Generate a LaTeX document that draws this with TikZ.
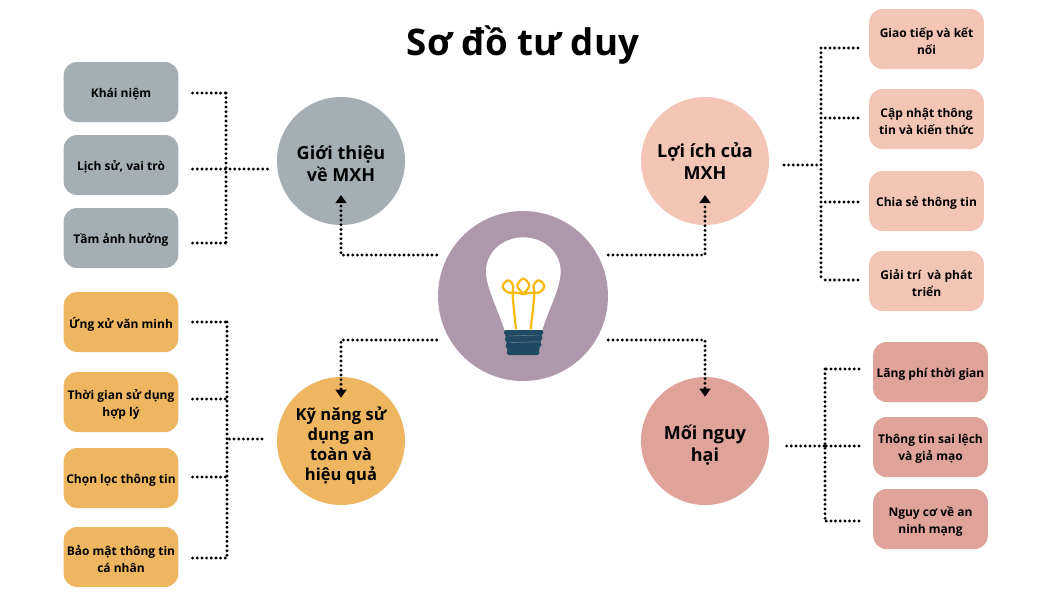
\documentclass[tikz,border=0pt]{standalone}
\usepackage{fontspec}
\setmainfont{Open Sans}
\usetikzlibrary{arrows.meta}

\definecolor{grisMXH}{HTML}{A5AFB3}
\definecolor{salmonMXH}{HTML}{F2C5B4}
\definecolor{naranjaMXH}{HTML}{EFB661}
\definecolor{rosaMXH}{HTML}{E0A39A}
\definecolor{malvaMXH}{HTML}{AE98AC}
\definecolor{azulMXH}{HTML}{1F4A63}
\definecolor{amarilloMXH}{HTML}{F9B90F}

\tikzset{
	tema/.style = {
		circle, minimum size = 96pt, inner sep = 0pt
	},
	rotulotema/.style = {
		align = center, inner sep = 0pt, yshift = -2.2pt,
		font = \bfseries\fontsize{13.5}{16.5}\selectfont
	},
	caja/.style = {
		rectangle, rounded corners = 10pt, inner sep = 0pt,
		minimum width = 86pt, minimum height = 45pt
	},
	rotulocaja/.style = {
		align = center, inner sep = 0pt, yshift = -1.6pt,
		font = \bfseries\fontsize{9}{12.75}\selectfont
	},
	punteado/.style = {
		line width = 2.4pt, line cap = round,
		dash pattern = on 0pt off 3.5pt
	},
	flecha/.style = {
		punteado, -{Triangle[width = 8pt, length = 6pt]}
	}
}

\begin{document}
\begin{tikzpicture}[x = 0.75pt, y = -0.75pt]

	% márgenes del dibujo
	\useasboundingbox (0,0) rectangle (1052,593);

	% título
	\node[font = \bfseries\fontsize{27.5}{32}\selectfont] (titulo) at (523,45) {Sơ đồ tư duy};

	% círculos
	\node[circle, fill = malvaMXH, minimum size = 127.5pt, inner sep = 0pt] (central) at (523,296) {};
	\node[tema, fill = grisMXH, label = {[rotulotema]center:Giới thiệu\\về MXH}] (gioithieu) at (341,161) {};
	\node[tema, fill = salmonMXH, label = {[rotulotema, yshift = 2.2pt]center:Lợi ích của\\MXH}] (loiich) at (705,161) {};
	\node[tema, fill = naranjaMXH, label = {[rotulotema, yshift = -1.2pt, font = \bfseries\fontsize{12.4}{15}\selectfont]center:Kỹ năng sử\\dụng an\\toàn và\\hiệu quả}] (kynang) at (341,441) {};
	\node[tema, fill = rosaMXH, label = {[rotulotema, yshift = -1pt]center:Mối nguy\\hại}] (moinguy) at (705,441) {};

	% cajas de cada tema
	\foreach \n/\y/\t in {
		khainiem/92/Khái niệm,
		lichsu/165/{Lịch sử, vai trò},
		anhhuong/238/Tầm ảnh hưởng}
		\node[caja, fill = grisMXH, label = {[rotulocaja]center:\t}] (\n) at (121,\y) {};

	\foreach \n/\y/\t in {
		giaotiep/39/{Giao tiếp và kết\\nối},
		capnhat/119/{Cập nhật thông\\tin và kiến thức},
		chiase/201/Chia sẻ thông tin,
		giaitri/281/{Giải trí~ và phát\\triển}}
		\node[caja, fill = salmonMXH, label = {[rotulocaja]center:\t}] (\n) at (926.5,\y) {};

	\foreach \n/\y/\t in {
		ungxu/322/Ứng xử văn minh,
		thoigian/402/{Thời gian sử dụng\\hợp lý},
		chonloc/478/Chọn lọc thông tin,
		baomat/557/{Bảo mật thông tin\\cá nhân}}
		\node[caja, fill = naranjaMXH, label = {[rotulocaja]center:\t}] (\n) at (121,\y) {};

	\foreach \n/\y/\t in {
		langphi/372/Lãng phí thời gian,
		sailech/447/{Thông tin sai lệch\\và giả mạo},
		anninh/519/{Nguy cơ về an\\ninh mạng}}
		\node[caja, fill = rosaMXH, label = {[rotulocaja]center:\t}] (\n) at (930.5,\y) {};

	% barras verticales
	\coordinate (barraA) at (226,169);
	\coordinate (barraB) at (821,165);
	\coordinate (barraC) at (227,439);
	\coordinate (barraD) at (825,446);

	% ramas punteadas
	\foreach \n/\d in {khainiem/1, lichsu/4, anhhuong/5}
		\draw[punteado] ([shift = {(14,\d)}]\n.east) coordinate (p\n) -- (barraA |- p\n);
	\draw[punteado] (barraA |- pkhainiem) -- (barraA |- panhhuong);
	\draw[punteado, shorten <= 7pt] (gioithieu.west |- barraA) -- (barraA);

	\foreach \n/\d in {giaotiep/9, capnhat/-1, chiase/1, giaitri/-1}
		\draw[punteado] ([shift = {(-11,\d)}]\n.west) coordinate (p\n) -- (barraB |- p\n);
	\draw[punteado] (barraB |- pgiaotiep) -- (barraB |- pgiaitri);
	\draw[punteado, shorten <= 11pt] (loiich.east |- barraB) -- (barraB);

	\foreach \n/\d in {ungxu/0, thoigian/-3, chonloc/-1, baomat/1}
		\draw[punteado] ([shift = {(14,\d)}]\n.east) coordinate (p\n) -- (barraC |- p\n);
	\draw[punteado] (barraC |- pungxu) -- (barraC |- pbaomat);
	\draw[punteado, shorten <= 11pt] (kynang.west |- barraC) -- (barraC);

	\foreach \n/\d in {langphi/-3, sailech/-1, anninh/2}
		\draw[punteado] ([shift = {(-14,\d)}]\n.west) coordinate (p\n) -- (barraD |- p\n);
	\draw[punteado] (barraD |- plangphi) -- (barraD |- panninh);
	\draw[punteado, shorten <= 13pt] (moinguy.east |- barraD) -- (barraD);

	% flechas desde el centro
	\draw[flecha] ([shift = {(-1,-41)}]central.west) -| ([shift = {(0,34)}]gioithieu.center);
	\draw[flecha] ([shift = {(0,-41)}]central.east) -| ([shift = {(0,34)}]loiich.center);
	\draw[flecha] ([shift = {(-1,44)}]central.west) -| ([shift = {(0,21)}]kynang.north);
	\draw[flecha] ([shift = {(0,44)}]central.east) -| ([shift = {(0,20)}]moinguy.north);

	% bombilla
	\begin{scope}[shift = {(430,200)}, x = 0.25pt, y = -0.25pt]
		\fill[white]
			(224,392) .. controls (205,330) and (168,262) .. (168,215)
			.. controls (168,155) and (220,112) .. (280,112)
			.. controls (340,112) and (392,155) .. (392,215)
			.. controls (392,262) and (355,330) .. (336,392) -- cycle;
		\draw[amarilloMXH, line width = 1.7pt, line join = round]
			plot[smooth, tension = 0.6] coordinates {
				(258,388) (248,285) (250,258) (235,241) (218,258) (232,277) (262,278)
				(280,282) (266,266) (263,252) (280,236) (297,252) (294,266)
				(280,282) (300,278) (328,277) (343,258) (326,241) (310,258) (313,285) (302,388)
			};
		\fill[azulMXH, rounded corners = 1pt] (224,390) -- (338,390) -- (325,465) -- (234,465) -- cycle;
		\draw[azulMXH, line width = 3.2pt, line cap = round]
			(228,397) -- (334,397)
			(231,418) -- (331,414)
			(233,438) -- (328,434)
			(237,458) -- (322,458);
		\draw[azulMXH!75!white, line width = 0.5pt]
			(236,408) -- (328,405)
			(238,428) -- (325,425);
	\end{scope}

\end{tikzpicture}
\end{document}
